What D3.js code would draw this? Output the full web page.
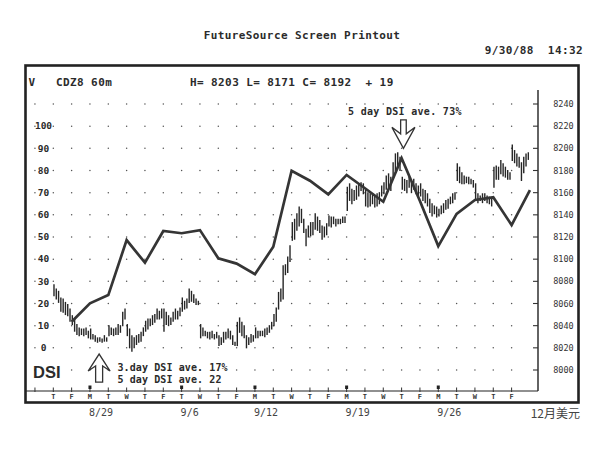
<!DOCTYPE html>
<html><head><meta charset="utf-8">
<script src="https://cdn.jsdelivr.net/npm/d3@7/dist/d3.min.js"></script>
<style>body{margin:0;background:#fff}svg{display:block}</style>
</head><body>
<script>
// ---- data ----
const dayLetters = ["T","F","M","T","W","T","F","T","W","T","F","M","T","W","T","F","M","T","W","T","F","M","T","W","T","F"];
const weekStartIdx = [2,7,11,16,21];
const dateLabels = ["8/29","9/6","9/12","9/19","9/26"];
const priceTicks = [8000,8020,8040,8060,8080,8100,8120,8140,8160,8180,8200,8220,8240];
const dsiTicks = [0,10,20,30,40,50,60,70,80,90,100];
const dsiDayIdx = [1,2,3,4,5,6,7,8,9,10,11,12,13,14,15,16,17,18,19,20,21,22,23,24,25,26];
const dsiValues = [11.8,20.1,23.8,48.6,38.4,52.7,51.7,53.1,40.4,38.0,33.2,45.6,79.9,75.4,69.2,78.0,72.0,65.9,85.5,66.2,45.9,60.4,66.7,67.9,55.4,71.2];
const barHigh = [
 [8077,8073,8071,8065,8064,8061,8059,8055],
 [8049,8046,8041,8038,8037,8037,8038,8035],
 [8037,8032,8031,8029,8029,8028,8031,8029],
 [8040,8038,8037,8038,8041,8040,8052,8055],
 [8041,8037,8031,8029,8031,8032,8034,8038],
 [8044,8046,8046,8049,8050,8055,8053,8055],
 [8055,8052,8049,8047,8052,8055,8053,8056],
 [8065,8062,8064,8073,8071,8068,8064,8062],
 [8041,8038,8035,8034,8034,8035,8032,8034],
 [8031,8029,8034,8034,8037,8035,8031,8025],
 [8043,8047,8043,8040,8031,8029,8032,8031],
 [8038,8035,8035,8035,8037,8038,8040,8043],
 [8050,8056,8070,8073,8094,8095,8102,8112],
 [8133,8136,8141,8147,8145,8136,8127,8130],
 [8133,8133,8141,8138,8135,8130,8129,8132],
 [8139,8138,8138,8136,8136,8136,8138,8138],
 [8165,8168,8163,8162,8166,8168,8169,8168],
 [8162,8160,8159,8159,8157,8159,8160,8166],
 [8169,8175,8177,8174,8187,8195,8196,8192],
 [8174,8172,8171,8174,8169,8172,8168,8166],
 [8168,8163,8162,8159,8154,8150,8148,8147],
 [8145,8148,8150,8153,8154,8156,8159,8160],
 [8186,8183,8178,8175,8174,8174,8172,8171],
 [8168,8159,8157,8159,8159,8157,8156,8154],
 [8183,8184,8183,8189,8186,8183,8180,8178],
 [8203,8198,8195,8192,8187,8192,8195,8196]
];
const barLow = [
 [8067,8064,8061,8053,8052,8050,8049,8044],
 [8041,8035,8032,8031,8032,8031,8032,8029],
 [8028,8028,8026,8025,8026,8025,8026,8026],
 [8031,8032,8031,8032,8032,8034,8040,8046],
 [8031,8020,8017,8020,8023,8025,8026,8031],
 [8035,8037,8040,8041,8043,8046,8046,8047],
 [8035,8041,8040,8041,8044,8046,8046,8049],
 [8053,8055,8056,8061,8062,8061,8059,8059],
 [8029,8031,8031,8029,8028,8029,8028,8029],
 [8022,8023,8025,8028,8029,8028,8023,8022],
 [8022,8034,8031,8029,8020,8023,8025,8026],
 [8029,8029,8031,8031,8030,8032,8034,8037],
 [8040,8044,8055,8062,8064,8086,8088,8098],
 [8117,8118,8126,8130,8133,8124,8112,8120],
 [8121,8122,8127,8126,8124,8118,8120,8122],
 [8130,8129,8132,8130,8132,8132,8133,8133],
 [8144,8153,8150,8153,8154,8157,8162,8159],
 [8148,8147,8148,8150,8147,8148,8150,8157],
 [8159,8163,8165,8162,8174,8180,8184,8180],
 [8163,8162,8160,8165,8160,8163,8159,8157],
 [8157,8153,8151,8148,8142,8139,8141,8138],
 [8139,8141,8142,8145,8146,8150,8151,8154],
 [8171,8169,8168,8168,8169,8168,8168,8165],
 [8153,8151,8153,8151,8153,8151,8150,8148],
 [8165,8172,8172,8177,8175,8174,8172,8172],
 [8189,8187,8184,8183,8171,8178,8184,8190]
];
const titleText = "FutureSource Screen Printout";
const stampText = "9/30/88\u00a0\u00a014:32";
const symbolText = "CDZ8 60m";
const quoteText = "H= 8203 L= 8171 C= 8192\u00a0\u00a0+ 19";
const topNote = "5 day DSI ave. 73%";
const bottomNotes = ["3.day DSI ave. 17%", "5 day DSI ave. 22"];
const cornerLabel = "12月美元";

// ---- layout ----
const W = 594, H = 454;
const ink = "#2b2b2b";
const mono = "'DejaVu Sans Mono', monospace";
const svg = d3.select("body").append("svg").attr("width", W).attr("height", H);
svg.append("rect").attr("width", W).attr("height", H).attr("fill", "#fff");

const x = d3.scaleLinear().domain([0, 25]).range([53.3, 511.6]);
const yP = d3.scaleLinear().domain([8000, 8240]).range([370, 104]);
const yD = d3.scaleLinear().domain([-10, 110]).range([370, 104]);
const axisX = 538, baseY = 391;

// titles
svg.append("text").attr("x", 302).attr("y", 38.5).attr("text-anchor", "middle")
  .style("font", `bold 11px ${mono}`).style("letter-spacing", "0.4px").attr("fill", ink).text(titleText);
svg.append("text").attr("x", 583).attr("y", 53.5).attr("text-anchor", "end")
  .style("font", `bold 11px ${mono}`).style("letter-spacing", "0.4px").attr("fill", ink).text(stampText);

// frame
svg.append("rect").attr("x", 25.5).attr("y", 65.5).attr("width", 553).attr("height", 337)
  .attr("fill", "none").attr("stroke", "#222").attr("stroke-width", 2.6);

// header inside
const hdr = svg.append("g").style("font", `bold 11px ${mono}`).style("letter-spacing", "0.4px").attr("fill", ink);
hdr.append("text").attr("x", 28.5).attr("y", 85.5).text("V");
hdr.append("text").attr("x", 56).attr("y", 85.5).text(symbolText);
hdr.append("text").attr("x", 190).attr("y", 85.5).text(quoteText);

// grid dots
const cols = d3.range(-1, 26);
const dotG = svg.append("g").attr("fill", "#555");
priceTicks.forEach(v => {
  cols.forEach(i => {
    dotG.append("circle").attr("cx", x(i)).attr("cy", yP(v)).attr("r", 0.75);
  });
});

// right axis
svg.append("line").attr("x1", axisX).attr("x2", axisX).attr("y1", 90).attr("y2", baseY)
  .attr("stroke", "#222").attr("stroke-width", 1.4);
const rAx = svg.append("g");
priceTicks.forEach(v => {
  rAx.append("line").attr("x1", axisX - 5).attr("x2", axisX).attr("y1", yP(v)).attr("y2", yP(v))
    .attr("stroke", "#333").attr("stroke-width", 1.1);
  rAx.append("text").attr("x", 563.5).attr("y", yP(v) + 3).attr("text-anchor", "middle")
    .style("font", `8.5px ${mono}`).attr("fill", "#333").text(v);
});

// left DSI labels
dsiTicks.forEach(v => {
  svg.append("text").attr("x", 43.5).attr("y", yD(v) + 3.3).attr("text-anchor", "middle")
    .style("font", `bold 9.5px ${mono}`).attr("fill", ink).text(v);
});

// bottom axis
svg.append("line").attr("x1", 26).attr("x2", axisX).attr("y1", baseY).attr("y2", baseY)
  .attr("stroke", "#222").attr("stroke-width", 1.2);
cols.forEach(i => {
  svg.append("line").attr("x1", x(i)).attr("x2", x(i)).attr("y1", baseY - 3.5).attr("y2", baseY + 1)
    .attr("stroke", "#333").attr("stroke-width", 1);
});
weekStartIdx.forEach(i => {
  svg.append("rect").attr("x", x(i) - 1.5).attr("y", baseY - 5.5).attr("width", 3).attr("height", 3.5).attr("fill", "#222");
});
dayLetters.forEach((d, i) => {
  svg.append("text").attr("x", x(i)).attr("y", baseY + 7.5).attr("text-anchor", "middle")
    .style("font", `bold 7px ${mono}`).attr("fill", "#333").text(d);
});
dateLabels.forEach((d, k) => {
  svg.append("text").attr("x", x(weekStartIdx[k]) - 1).attr("y", 416)
    .style("font", `10px ${mono}`).attr("fill", "#444").text(d);
});
svg.append("text").attr("x", 580).attr("y", 418).attr("text-anchor", "end")
  .style("font", "12px 'Noto Sans CJK SC', sans-serif").attr("fill", "#444").text(cornerLabel);

// price bars
const bars = [];
barHigh.forEach((row, d) => row.forEach((h, j) => bars.push({d, j, h, l: barLow[d][j]})));
svg.append("g").selectAll("line").data(bars).join("line")
  .attr("x1", b => x(b.d + (b.j + 0.3) / 8)).attr("x2", b => x(b.d + (b.j + 0.3) / 8))
  .attr("y1", b => yP(b.h) - 0.5).attr("y2", b => yP(b.l) + 0.5)
  .attr("stroke", "#262626").attr("stroke-width", 1.4);

// DSI line
const dsiPts = dsiDayIdx.map((d, k) => [x(d), yD(dsiValues[k])]);
svg.append("path").attr("d", d3.line()(dsiPts)).attr("fill", "none")
  .attr("stroke", "#353535").attr("stroke-width", 2.7).attr("stroke-linejoin", "miter");

// annotations
const downTip = [x(19.1), yD(90)];
svg.append("path").attr("transform", `translate(${downTip[0]},${downTip[1]})`)
  .attr("d", "M-2.8,-28.5L2.8,-28.5L2.8,-14.5L11.5,-21L0,0L-11.5,-21L-2.8,-14.5Z")
  .attr("fill", "#fff").attr("stroke", "#333").attr("stroke-width", 1.3);
svg.append("text").attr("x", 348).attr("y", 114.5)
  .style("font", `bold 10px ${mono}`).style("letter-spacing", "0.3px").attr("fill", ink).text(topNote);

const upTip = [x(2.5), yD(-2.8)];
svg.append("path").attr("transform", `translate(${upTip[0]},${upTip[1]})`)
  .attr("d", "M-3.5,28L3.5,28L3.5,12L11,17L0,0L-11,17L-3.5,12Z")
  .attr("fill", "#fff").attr("stroke", "#333").attr("stroke-width", 1.3);
bottomNotes.forEach((t, k) => {
  svg.append("text").attr("x", 117.5).attr("y", 370.5 + k * 12)
    .style("font", `bold 10px ${mono}`).style("letter-spacing", "0.1px").attr("fill", ink).text(t);
});
svg.append("text").attr("x", 33).attr("y", 377.5)
  .style("font", "bold 16.5px 'Liberation Sans', Arial, sans-serif").attr("fill", ink).text("DSI");
</script>
</body></html>
